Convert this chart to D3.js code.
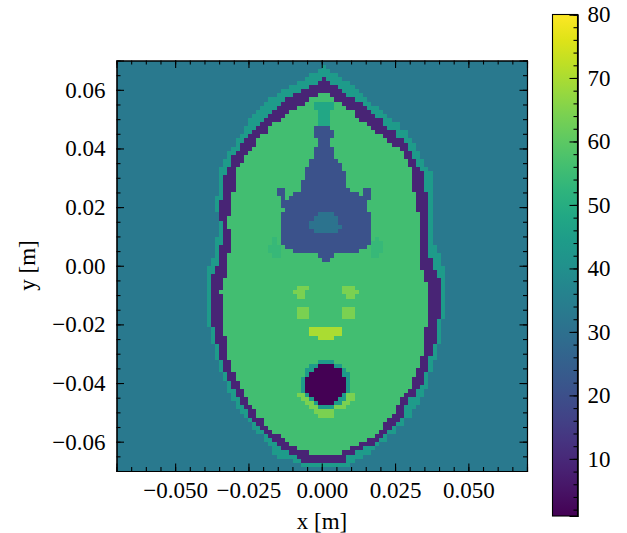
<!DOCTYPE html>
<html>
<head>
<meta charset="utf-8">
<script src="https://cdn.jsdelivr.net/npm/d3@7"></script>
<style>
  html, body { margin: 0; padding: 0; background: #fff; }
  svg { display: block; }
  text { font-family: "Liberation Serif", serif; fill: #000; }
</style>
</head>
<body>
<div id="chart"></div>
<script>
// tissue values
const tissueValues = { b: 33, s: 44, p: 9, g: 56, t: 48, u: 21, i: 31, o: 1, l: 64, y: 70, f: 54 };

// one entry per image row, top to bottom: tissue letter + first column of the run
const imageRows = [
  "b0",
  "b0 s50 b51",
  "b0 s49 b52",
  "b0 s47 b54",
  "b0 s46 p50 s51 b55",
  "b0 s44 p49 s52 b57",
  "b0 s42 p47 s54 b58",
  "b0 s40 p45 s55 b59",
  "b0 s39 p43 g49 p52 s56 b60",
  "b0 s37 p41 g47 p53 s58 b61",
  "b0 s36 p40 g46 t48 g53 p55 s60 b62",
  "b0 s35 p39 g44 t48 g53 p56 s61 b64",
  "b0 s34 p38 g42 t49 g52 p58 s62 b65",
  "b0 s33 p37 g41 t49 g52 p58 s63 b66",
  "b0 s32 p36 g40 t49 g52 p59 s65 b67",
  "b0 s32 p35 g38 t49 g52 p61 s65 b69",
  "b0 s31 p34 g37 u48 g52 p62 s66 b69",
  "b0 s31 p33 g37 u48 g53 p63 s68 b71",
  "b0 s30 p32 g35 u48 g53 p65 s68 b71",
  "b0 s29 p31 g34 u49 g52 p66 s70 b72",
  "b0 s29 p30 g34 u49 g52 p67 s71 b73",
  "b0 s28 p30 g33 u48 g53 p69 s71 b73",
  "b0 s27 p29 g32 u48 g53 p70 s72 b74",
  "b0 s27 p28 g31 u48 g53 p70 s72 b74",
  "b0 s26 p28 g31 u47 g54 p71 s73 b75",
  "b0 s26 p28 g30 u47 g55 p71 s73 b75",
  "b0 s25 p27 g29 u46 g55 p72 s74 b76",
  "b0 s25 p27 g29 u46 g56 p72 s75 b77",
  "b0 s25 p26 g29 u46 g56 p72 s75 b77",
  "b0 s25 p26 g29 u45 g56 p72 s75 b77",
  "b0 s25 p26 g29 u45 g56 p72 s75 b77",
  "b0 s25 p26 g29 u39 g41 u45 g57 u60 g62 p72 s75 b77",
  "b0 s25 p26 g28 u39 g41 u43 g59 u60 g62 p73 s76 b77",
  "b0 s24 p26 g28 u40 g41 u42 g62 p73 s76 b77",
  "b0 s24 p25 g28 u40 g61 p73 s76 b77",
  "b0 s24 p25 g28 u40 g61 p73 s76 b77",
  "b0 s24 p25 g28 u41 g61 p73 s76 b77",
  "b0 p25 g28 u40 i49 u53 g62 p74 s76 b77",
  "b0 p25 g27 u40 i48 u54 g62 p74 s76 b77",
  "b0 s25 p26 g27 u40 i47 u54 g62 p74 s76 b77",
  "b0 s25 p26 g27 u40 i47 u55 g62 p74 s76 b77",
  "b0 s25 p26 g28 u40 i48 u54 g62 p74 s76 b77",
  "b0 s25 p26 g28 u40 g62 p74 s76 b77",
  "b0 s24 p26 g28 f38 g39 u40 g62 f63 g64 p74 s76 b77",
  "b0 s24 p26 g28 f38 g39 u40 f62 g65 p74 s76 b77",
  "b0 s24 p25 g28 f37 g40 u41 g61 f62 g65 p74 s76 b78",
  "b0 s24 p25 g28 f37 g40 u43 g59 f62 g65 p74 s76 b78",
  "b0 s24 p25 g27 f38 g40 u49 g53 f62 g64 p74 s76 b79",
  "b0 s23 p25 g27 u50 g52 p74 s77 b79",
  "b0 s23 p25 g27 p74 s77 b79",
  "b0 s22 p24 g27 p74 s77 b80",
  "b0 s22 p24 g27 p75 s78 b80",
  "b0 s22 p23 g27 p75 s78 b80",
  "b0 s22 p23 g26 p75 s79 b80",
  "b0 s22 p23 g26 p76 s79 b80",
  "b0 s22 p23 g26 l44 g47 l55 g58 p76 s79 b80",
  "b0 s22 p23 g25 l43 g46 l55 g59 p76 s79 b80",
  "b0 s22 p23 g26 l44 g46 l56 g58 p76 s79 b80",
  "b0 s22 p23 g26 p76 s79 b80",
  "b0 s22 p23 g26 p76 s79 b80",
  "b0 s22 p23 g26 l44 g47 l55 g58 p76 s79 b80",
  "b0 s22 p23 g26 l44 g47 l55 g58 p76 s79 b80",
  "b0 s22 p23 g26 l44 g47 l55 g58 p76 s79 b80",
  "b0 s22 p23 g26 p76 s78 b79",
  "b0 s22 p23 g26 p76 s78 b79",
  "b0 s23 p24 g26 y47 g55 p75 s78 b79",
  "b0 s23 p24 g26 y47 g55 p75 s78 b79",
  "b0 s23 p24 g27 y49 g53 p75 s78 b79",
  "b0 s23 p24 g27 p75 s78 b79",
  "b0 s24 p25 g27 p75 s77 b78",
  "b0 s24 p25 g27 p75 s77 b78",
  "b0 s24 p25 g27 p75 s77 b78",
  "b0 s24 p25 g27 p74 s76 b78",
  "b0 s25 p26 g28 s49 g53 p74 s76 b77",
  "b0 s25 p26 g28 s47 o49 s53 g55 p74 s76 b77",
  "b0 s25 p26 g28 s46 o48 s55 g56 p73 s76 b77",
  "b0 s26 p27 g29 s46 o47 s55 g57 p73 s75 b76",
  "b0 s26 p27 g29 s45 o46 s56 g57 p72 s75 b76",
  "b0 s27 p28 g30 s45 o46 s56 g57 p72 s75 b76",
  "b0 s27 p28 g30 s45 o46 s56 g57 p72 s74 b76",
  "b0 s27 p29 g31 s45 o46 s56 g57 p71 s73 b75",
  "b0 s28 p29 g31 l44 s46 o47 s55 l56 g58 p70 s73 b75",
  "b0 s28 p30 g32 l45 s47 o48 s54 l56 g58 p69 s71 b74",
  "b0 s29 p30 g32 l46 s48 o49 s53 l55 g57 p69 s71 b74",
  "b0 s29 p31 g33 l47 s49 l53 g56 p68 s70 b73",
  "b0 s30 p32 g34 l48 g53 p68 s70 b72",
  "b0 s31 p32 g34 l49 g53 p67 s70 b72",
  "b0 s32 p33 g36 p66 s69 b70",
  "b0 s33 p34 g36 p65 s68 b70",
  "b0 s33 p35 g37 p65 s67 b68",
  "b0 s34 p36 g38 p64 s66 b68",
  "b0 s36 p37 g40 p63 s65 b66",
  "b0 s36 p38 g41 p61 s64 b66",
  "b0 s37 p39 g42 p59 s63 b64",
  "b0 s38 p40 g44 p57 s60 b63",
  "b0 s38 p42 g47 p55 s58 b62",
  "b0 s39 p44 s56 b60",
  "b0 s43 p45 s56 b58",
  "b0 s45 b57",
  "b0"
];

const nCols = 100;
const xExtent = [-0.07, 0.07];
const yExtent = [-0.07, 0.07];
const xTicks = [-0.05, -0.025, 0, 0.025, 0.05];
const yTicks = [-0.06, -0.04, -0.02, 0, 0.02, 0.04, 0.06];
const minorTicks = d3.range(-13, 14).map(d => d * 0.005);
const barDomain = [1, 80];
const barTicks = [10, 20, 30, 40, 50, 60, 70, 80];
const barMinorTicks = d3.range(2, 81, 2);

const width = 627, height = 533;
const plot = { left: 116.5, right: 527, top: 60.5, bottom: 471 };
const bar = { left: 552.5, right: 577.5, top: 14.5, bottom: 516 };
const fontSize = 23;

const svg = d3.select("#chart").append("svg")
  .attr("width", width)
  .attr("height", height)
  .attr("viewBox", [0, 0, width, height]);

const x = d3.scaleLinear().domain(xExtent).range([plot.left, plot.right]);
const y = d3.scaleLinear().domain(yExtent).range([plot.bottom, plot.top]);
const color = d3.scaleSequential(d3.interpolateViridis).domain(barDomain);

const colToX = d3.scaleLinear().domain([0, nCols]).range(xExtent);
const rowToY = d3.scaleLinear().domain([0, imageRows.length]).range([yExtent[1], yExtent[0]]);

// expand each row string into runs
const runs = imageRows.flatMap((row, r) => {
  const parts = row.split(" ").map(p => ({ value: tissueValues[p[0]], start: +p.slice(1) }));
  return parts.map((p, i) => ({
    row: r,
    value: p.value,
    start: p.start,
    end: i + 1 < parts.length ? parts[i + 1].start : nCols
  }));
});

svg.append("g")
  .attr("shape-rendering", "crispEdges")
  .selectAll("rect")
  .data(runs)
  .join("rect")
  .attr("x", d => x(colToX(d.start)))
  .attr("width", d => x(colToX(d.end)) - x(colToX(d.start)))
  .attr("y", d => y(rowToY(d.row)))
  .attr("height", d => y(rowToY(d.row + 1)) - y(rowToY(d.row)))
  .attr("fill", d => color(d.value));

// axes, ticks point inward on all four sides
function styleAxis(g) {
  g.selectAll("path,line").attr("stroke", "#000").attr("stroke-width", 1.1);
  g.selectAll("text").attr("font-family", '"Liberation Serif", serif').attr("font-size", fontSize).attr("fill", "#000");
}

const fmtX = d3.format(".3f"), fmtY = d3.format(".2f");

function addAxis(maker, scale, tf, major, minor, fmt) {
  const g = svg.append("g").attr("transform", tf);
  g.append("g").call(maker(scale).tickValues(minor).tickSize(-4).tickFormat("")).call(styleAxis);
  g.append("g").call(maker(scale).tickValues(major).tickSize(-7.5).tickPadding(11).tickFormat(fmt || "")).call(styleAxis);
}

addAxis(d3.axisBottom, x, `translate(0,${plot.bottom})`, xTicks, minorTicks, fmtX);
addAxis(d3.axisTop, x, `translate(0,${plot.top})`, xTicks, minorTicks, null);
addAxis(d3.axisLeft, y, `translate(${plot.left},0)`, yTicks, minorTicks, fmtY);
addAxis(d3.axisRight, y, `translate(${plot.right},0)`, yTicks, minorTicks, null);

svg.append("text").attr("x", 322).attr("y", 529).attr("text-anchor", "middle")
  .attr("font-size", fontSize).text("x [m]");
svg.append("text").attr("transform", "translate(35,265.5) rotate(-90)").attr("text-anchor", "middle")
  .attr("font-size", fontSize).text("y [m]");

// colorbar
const barScale = d3.scaleLinear().domain(barDomain).range([bar.bottom, bar.top]);
const grad = svg.append("defs").append("linearGradient")
  .attr("id", "viridis-bar").attr("x1", 0).attr("x2", 0).attr("y1", 1).attr("y2", 0);
grad.selectAll("stop").data(d3.range(0, 1.001, 0.05)).join("stop")
  .attr("offset", d => d)
  .attr("stop-color", d => d3.interpolateViridis(d));
svg.append("rect")
  .attr("x", bar.left).attr("y", bar.top)
  .attr("width", bar.right - bar.left).attr("height", bar.bottom - bar.top)
  .attr("fill", "url(#viridis-bar)").attr("stroke", "#000").attr("stroke-width", 1.1);

const barG = svg.append("g").attr("transform", `translate(${bar.right},0)`);
barG.append("g").call(d3.axisRight(barScale).tickValues(barMinorTicks).tickSize(-4).tickFormat("")).call(styleAxis);
barG.append("g").call(d3.axisRight(barScale).tickValues(barTicks).tickSize(-8).tickPadding(10).tickFormat(d3.format("d"))).call(styleAxis);
</script>
</body>
</html>
